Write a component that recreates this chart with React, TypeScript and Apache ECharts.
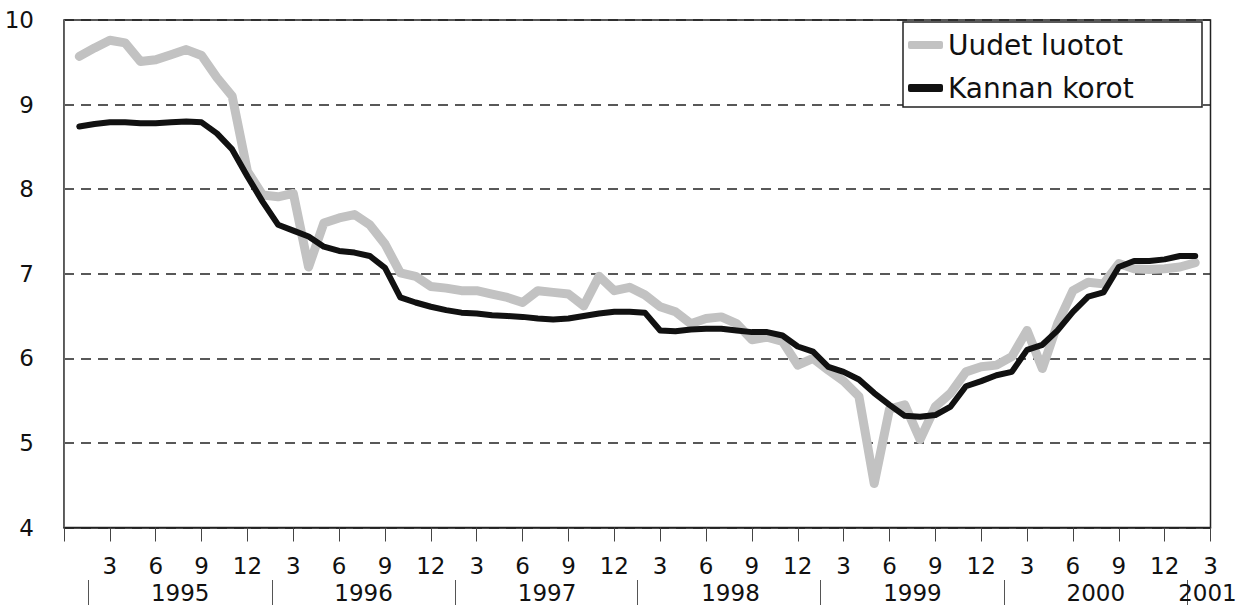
import React, { useEffect, useRef } from "react";
import * as echarts from "echarts";

// months counted from December 1994 (= 0); series start in January 1995 (= 1)
const FIRST_MONTH = 1;

const uudetLuotot = [
  9.57, 9.67, 9.76, 9.73, 9.51, 9.53, 9.59, 9.65, 9.58, 9.32, 9.1, 8.21,
  7.93, 7.91, 7.95, 7.08, 7.6, 7.66, 7.7, 7.58, 7.35, 7.01, 6.97, 6.85,
  6.83, 6.8, 6.8, 6.76, 6.72, 6.66, 6.8, 6.78, 6.76, 6.62, 6.97, 6.8,
  6.84, 6.75, 6.61, 6.55, 6.41, 6.47, 6.49, 6.41, 6.22, 6.25, 6.2, 5.92,
  6.0, 5.86, 5.73, 5.55, 4.52, 5.4, 5.45, 5.04, 5.43, 5.59, 5.84, 5.9,
  5.92, 6.02, 6.33, 5.88, 6.41, 6.8, 6.9, 6.88, 7.12, 7.06, 7.05, 7.06,
  7.08, 7.13,
];

const kannanKorot = [
  8.74, 8.77, 8.79, 8.79, 8.78, 8.78, 8.79, 8.8, 8.79, 8.66, 8.47, 8.15,
  7.85, 7.58, 7.51, 7.44, 7.32, 7.27, 7.25, 7.21, 7.07, 6.72, 6.66, 6.61,
  6.57, 6.54, 6.53, 6.51, 6.5, 6.49, 6.47, 6.46, 6.47, 6.5, 6.53, 6.55,
  6.55, 6.54, 6.33, 6.32, 6.34, 6.35, 6.35, 6.33, 6.31, 6.31, 6.27, 6.14,
  6.08, 5.9, 5.84, 5.75, 5.59, 5.45, 5.32, 5.31, 5.33, 5.43, 5.67, 5.73,
  5.8, 5.84, 6.1, 6.16, 6.33, 6.55, 6.73, 6.78, 7.08, 7.15, 7.15, 7.17,
  7.21, 7.21,
];

const seriesNames = ["Uudet luotot", "Kannan korot"];

// year labels (text and centre position in months) and the separators between them
const yearLabels = ["1995", "1996", "1997", "1998", "1999", "2000", "2001"];
const yearLabelPos = [7.6, 19.6, 31.6, 43.6, 55.5, 67.5, 74.8];
const yearSeparators = [1.6, 13.6, 25.6, 37.5, 49.5, 61.5, 73.5];

const X_MIN = 0;
const X_MAX = 75;
const X_INTERVAL = 3;
const Y_MIN = 4;
const Y_MAX = 10;

const FONT = "DejaVu Sans";

export default function App() {
  const ref = useRef<HTMLDivElement>(null);

  useEffect(() => {
    if (!ref.current) return;
    const chart = echarts.init(ref.current, undefined, { renderer: "svg" });

    const toPairs = (arr: number[]) => arr.map((v, i) => [FIRST_MONTH + i, v]);

    chart.setOption({
      animation: false,
      backgroundColor: "#ffffff",
      textStyle: { fontFamily: FONT, color: "#111" },
      grid: {
        left: 64,
        right: 34.5,
        top: 20,
        bottom: 77.5,
        show: true,
        borderColor: "#222",
        borderWidth: 1.5,
        backgroundColor: "transparent",
      },
      graphic: [
        {
          type: "rect",
          z: 3.5,
          shape: { x: 903, y: 22, width: 299, height: 85 },
          style: { fill: "#ffffff", stroke: "#222", lineWidth: 1.5 },
        },
      ],
      legend: {
        orient: "vertical",
        left: 903,
        top: 22,
        padding: [9, 0, 0, 5],
        itemWidth: 35,
        itemHeight: 8,
        itemGap: 15,
        icon: "roundRect",
        z: 4,
        textStyle: { fontFamily: FONT, fontSize: 28, color: "#111" },
        data: seriesNames,
      },
      xAxis: [
        {
          type: "value",
          min: X_MIN,
          max: X_MAX,
          interval: X_INTERVAL,
          position: "bottom",
          axisLine: { show: true, lineStyle: { color: "#222", width: 1.5 } },
          axisTick: { show: true, length: 14, lineStyle: { color: "#444", width: 1 } },
          axisLabel: {
            show: true,
            margin: 27,
            fontFamily: FONT,
            fontSize: 23,
            color: "#111",
            showMinLabel: true,
            showMaxLabel: true,
            formatter: (v: number) => (v <= 0 ? "" : String(((Math.round(v) - 1) % 12) + 1)),
          },
          splitLine: { show: false },
        },
        {
          type: "value",
          min: X_MIN,
          max: X_MAX,
          position: "bottom",
          offset: 52.5,
          axisLine: { show: false },
          axisTick: {
            show: true,
            length: 26,
            customValues: yearSeparators,
            lineStyle: { color: "#555", width: 1 },
          },
          axisLabel: {
            show: true,
            margin: 1,
            fontFamily: FONT,
            fontSize: 23,
            color: "#111",
            customValues: yearLabelPos,
            formatter: (v: number) => {
              const i = yearLabelPos.findIndex((p) => Math.abs(p - v) < 1e-6);
              return i >= 0 ? yearLabels[i] : "";
            },
          },
          splitLine: { show: false },
        },
      ],
      yAxis: {
        type: "value",
        min: Y_MIN,
        max: Y_MAX,
        interval: 1,
        axisLine: { show: true, lineStyle: { color: "#666", width: 1 } },
        axisTick: { show: false },
        axisLabel: { margin: 30, fontFamily: FONT, fontSize: 23, color: "#111" },
        splitLine: {
          show: true,
          lineStyle: { color: "#222", width: 1.5, type: [10, 7] },
        },
      },
      series: [
        {
          name: seriesNames[0],
          type: "line",
          xAxisIndex: 0,
          data: toPairs(uudetLuotot),
          showSymbol: false,
          symbol: "none",
          color: "#c2c2c2",
          lineStyle: { color: "#c2c2c2", width: 9, cap: "round", join: "round" },
          z: 2,
        },
        {
          name: seriesNames[1],
          type: "line",
          xAxisIndex: 0,
          data: toPairs(kannanKorot),
          showSymbol: false,
          symbol: "none",
          color: "#111111",
          lineStyle: { color: "#111111", width: 6, cap: "round", join: "round" },
          z: 3,
        },
      ],
    });

    return () => chart.dispose();
  }, []);

  return (
    <div
      ref={ref}
      style={{ position: "absolute", left: 0, top: 0, width: 1245, height: 605 }}
    />
  );
}
